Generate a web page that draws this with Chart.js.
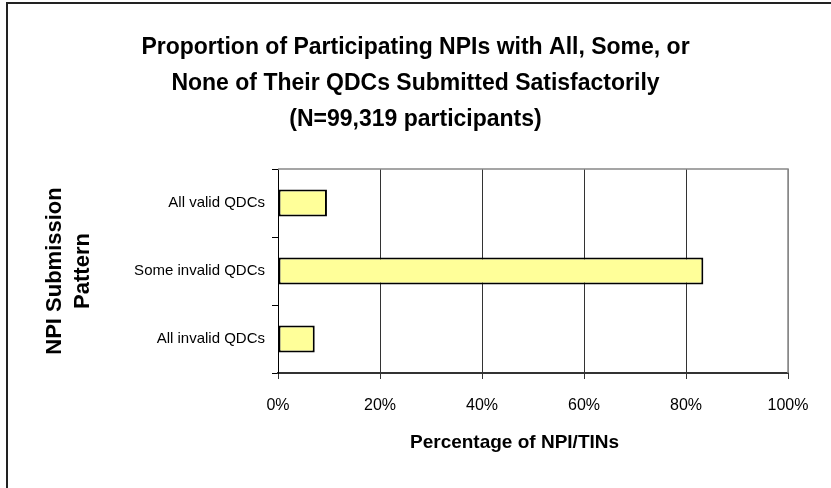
<!DOCTYPE html>
<html>
<head>
<meta charset="utf-8">
<script src="https://cdn.jsdelivr.net/npm/chart.js@4.4.1/dist/chart.umd.min.js"></script>
<style>
  html, body { margin: 0; padding: 0; background: #ffffff; }
  #wrap { width: 831px; height: 488px; position: relative; }
</style>
</head>
<body>
<div id="wrap"><canvas id="c" width="831" height="488"></canvas></div>
<script>
// ---- data ----
const categories = ["All valid QDCs", "Some invalid QDCs", "All invalid QDCs"];
const percentValues = [9.6, 83.4, 7.2];
const titleLines = [
  "Proportion of Participating NPIs with All, Some, or",
  "None of Their QDCs Submitted Satisfactorily",
  "(N=99,319 participants)"
];
const xAxisTitle = "Percentage of NPI/TINs";
const yAxisTitleLines = ["NPI Submission", "Pattern"];
const xTickMin = 0;
const xTickMax = 100;
const xTickStep = 20;

// ---- styling ----
const FONT = "'Liberation Sans', Arial, Helvetica, sans-serif";

const framePlugin = {
  id: 'frame',
  beforeDraw(chart) {
    const ctx = chart.ctx;
    ctx.save();
    ctx.fillStyle = '#ffffff';
    ctx.fillRect(0, 0, chart.width, chart.height);
    ctx.strokeStyle = '#222222';
    ctx.lineWidth = 2;
    ctx.beginPath();
    ctx.moveTo(7, chart.height + 2);
    ctx.lineTo(7, 3);
    ctx.lineTo(chart.width + 2, 3);
    ctx.stroke();
    ctx.restore();
  },
  beforeDatasetsDraw(chart) {
    const a = chart.chartArea;
    const ctx = chart.ctx;
    ctx.save();
    ctx.strokeStyle = '#888888';
    ctx.lineWidth = 1.5;
    ctx.beginPath();
    ctx.moveTo(a.left, a.top);
    ctx.lineTo(a.right, a.top);
    ctx.lineTo(a.right, a.bottom);
    ctx.stroke();
    ctx.restore();
  }
};

new Chart(document.getElementById('c'), {
  type: 'bar',
  data: {
    labels: categories,
    datasets: [{
      data: percentValues,
      backgroundColor: '#FFFF99',
      borderColor: '#000000',
      borderWidth: 2,
      borderSkipped: false,
      barPercentage: 0.4,
      categoryPercentage: 1.0
    }]
  },
  options: {
    indexAxis: 'y',
    responsive: false,
    animation: false,
    devicePixelRatio: 1,
    layout: { padding: 0 },
    plugins: {
      legend: { display: false },
      tooltip: { enabled: false },
      title: {
        display: true,
        text: titleLines,
        color: '#000000',
        font: { family: FONT, size: 23, weight: 'bold', lineHeight: 36 / 23 },
        padding: { top: 30, bottom: 31 }
      }
    },
    scales: {
      x: {
        type: 'linear',
        min: xTickMin,
        max: xTickMax,
        afterFit(scale) { scale.height = 488 - 373; },
        ticks: {
          stepSize: xTickStep,
          color: '#000000',
          padding: 17,
          font: { family: FONT, size: 16 },
          callback: (v) => v + '%'
        },
        grid: {
          color: (ctx) => (ctx.tick && ctx.tick.value === xTickMax) ? '#888888' : '#333333',
          lineWidth: 1,
          drawTicks: true,
          tickLength: 6,
          tickColor: '#333333'
        },
        border: { display: true, color: '#333333', width: 2 },
        title: {
          display: true,
          text: xAxisTitle + '       ',
          color: '#000000',
          font: { family: FONT, size: 19, weight: 'bold', lineHeight: 1.2 },
          padding: { top: 0, bottom: 34 }
        }
      },
      y: {
        type: 'category',
        afterFit(scale) { scale.width = 278; },
        ticks: {
          color: '#000000',
          padding: 7,
          font: { family: FONT, size: 15 }
        },
        grid: {
          offset: true,
          drawOnChartArea: false,
          drawTicks: true,
          tickLength: 6,
          color: '#000000',
          tickColor: '#000000'
        },
        border: { display: true, color: '#000000', width: 1 },
        title: {
          display: true,
          text: yAxisTitleLines,
          color: '#000000',
          font: { family: FONT, size: 22, weight: 'bold', lineHeight: 28 / 22 },
          padding: { top: 41, bottom: 0 }
        }
      },
      yRightSpace: {
        type: 'linear',
        axis: 'y',
        position: 'right',
        display: true,
        afterFit(scale) { scale.width = 43; },
        ticks: { display: false },
        grid: { display: false },
        border: { display: false },
        title: { display: false }
      }
    }
  },
  plugins: [framePlugin]
});
</script>
</body>
</html>
